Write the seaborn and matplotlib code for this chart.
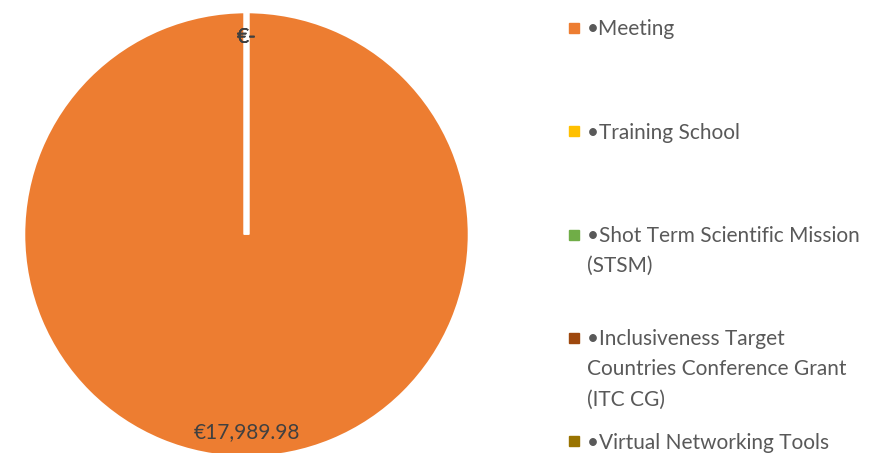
"""Budget split by activity type, pie chart with side legend."""

import matplotlib
matplotlib.use("Agg")
import matplotlib.pyplot as plt
import seaborn as sns
from matplotlib.lines import Line2D
from matplotlib.text import Annotation

categories = [
    "Meeting",
    "Training School",
    "Shot Term Scientific Mission\n(STSM)",
    "Inclusiveness Target\nCountries Conference Grant\n(ITC CG)",
    "Virtual Networking Tools",
]
amounts = [17989.98, 0.0, 0.0, 0.0, 0.0]
colors = ["#ED7D31", "#FFC000", "#70AD47", "#9E480E", "#997300"]

sns.set_style("white")
plt.rcParams["font.family"] = ["Lato", "DejaVu Sans"]

TEXT = "#595959"
FS = 15
total = sum(amounts)


def fmt_value(pct):
    val = pct * total / 100.0
    if val < 0.005:
        return "€-"
    return f"€{val:,.2f}"


fig = plt.figure(figsize=(8.74, 4.53), dpi=100)
# pie centre ~ (246.5, 234.5) px, radius ~224 px incl. the white outline
cx, cy, r = 246.5, 234.5, 224
ax = fig.add_axes([(cx - r) / 874, (453 - cy - r) / 453, 2 * r / 874, 2 * r / 453])

wedges, _, autotexts = ax.pie(
    amounts,
    colors=colors,
    startangle=90,
    counterclock=False,
    autopct=fmt_value,
    pctdistance=0.88,
    wedgeprops=dict(edgecolor="white", linewidth=4),
    textprops=dict(color="#404040", fontsize=FS),
)
ax.set_xlim(-1, 1)
ax.set_ylim(-1, 1)
ax.set_aspect("equal")

# legend: first line of each label in the legend, wrapped lines hang below
first_lines = ["•" + c.split("\n")[0] for c in categories]
handles = [
    Line2D([], [], linestyle="none", marker="s", markersize=6.5,
           markerfacecolor=col, markeredgecolor=col)
    for col in colors
]
leg = fig.legend(
    handles, first_lines,
    loc="upper left",
    bbox_to_anchor=(557 / 874, 1 - 9 / 453),
    frameon=False,
    fontsize=FS,
    labelcolor=TEXT,
    handlelength=0.6,
    handletextpad=0.35,
    labelspacing=4.0,
    borderpad=0,
)

for txt, cat in zip(leg.get_texts(), categories):
    extra = cat.split("\n")[1:]
    for i, line in enumerate(extra, start=1):
        fig.add_artist(Annotation(
            line, xy=(0, 0.5), xycoords=txt,
            xytext=(0, -30 * i), textcoords="offset pixels",
            va="center", ha="left", fontsize=FS, color=TEXT, zorder=6,
        ))

fig.savefig("out.png", dpi=100)
